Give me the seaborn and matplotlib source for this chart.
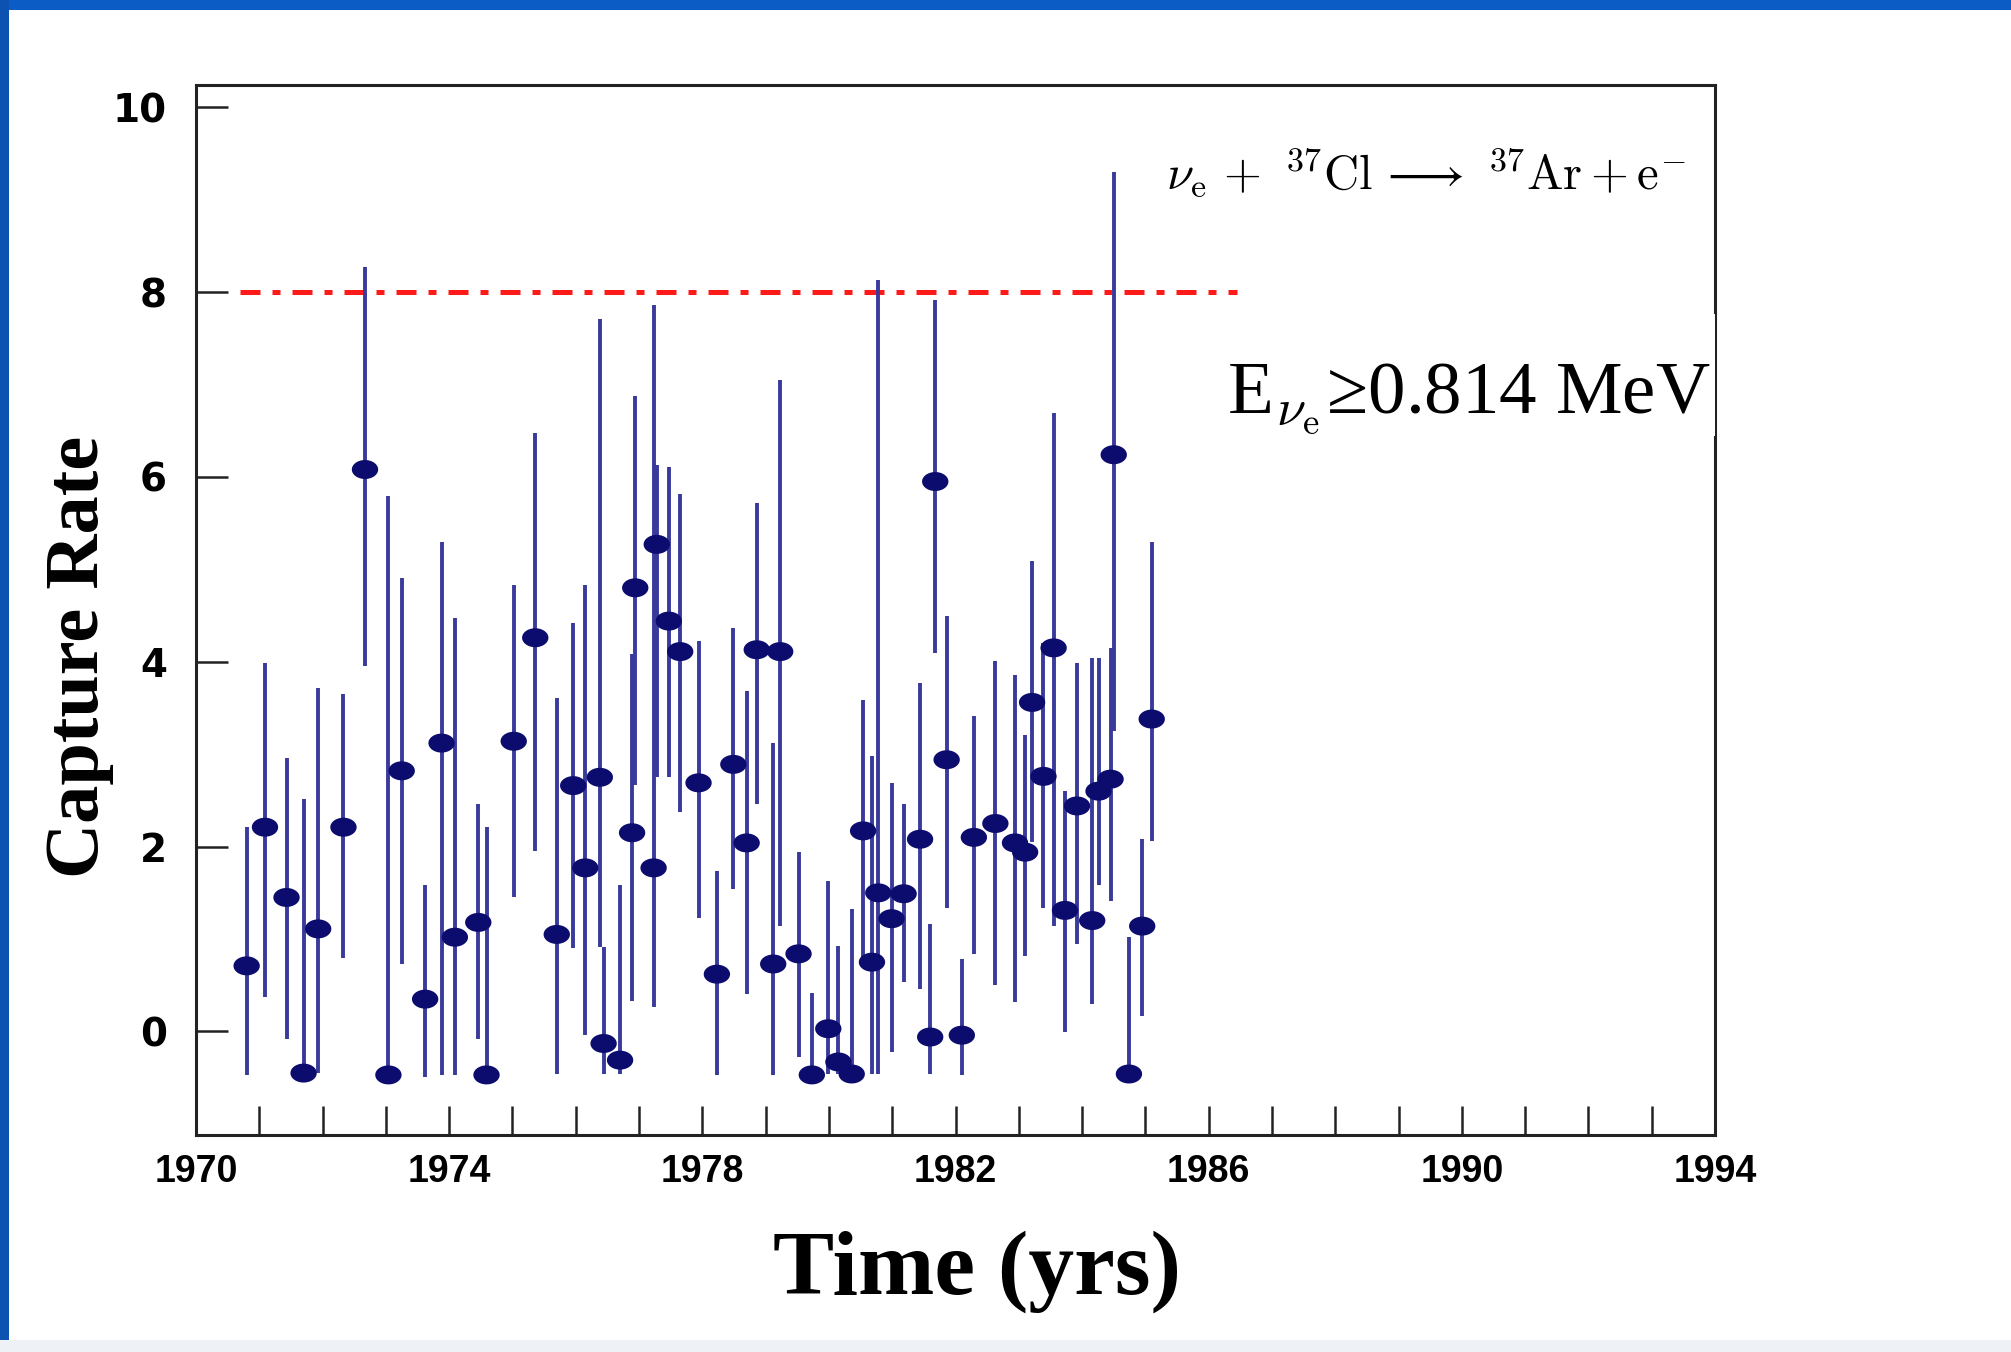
import numpy as np
import pandas as pd
import matplotlib
matplotlib.use("Agg")
import matplotlib.pyplot as plt
from matplotlib.path import Path
from matplotlib.patches import Rectangle
import seaborn as sns

# Homestake chlorine run results: run time (yr), capture rate and 1-sigma range
years = [1970.80, 1971.09, 1971.43, 1971.70, 1971.93, 1972.33, 1972.67, 1973.04,
         1973.25, 1973.62, 1973.88, 1974.09, 1974.46, 1974.59, 1975.02, 1975.36,
         1975.70, 1975.96, 1976.15, 1976.38, 1976.44, 1976.70, 1976.89, 1976.94,
         1977.23, 1977.28, 1977.47, 1977.65, 1977.94, 1978.23, 1978.49, 1978.70,
         1978.86, 1979.12, 1979.23, 1979.52, 1979.73, 1979.99, 1980.15, 1980.36,
         1980.54, 1980.68, 1980.78, 1980.99, 1981.18, 1981.44, 1981.60, 1981.68,
         1981.86, 1982.10, 1982.29, 1982.63, 1982.94, 1983.10, 1983.21, 1983.39,
         1983.55, 1983.73, 1983.92, 1984.16, 1984.26, 1984.45, 1984.50, 1984.74,
         1984.95, 1985.10]
rate = [0.71, 2.21, 1.45, -0.45, 1.11, 2.21, 6.08, -0.47,
        2.82, 0.35, 3.12, 1.02, 1.18, -0.47, 3.14, 4.26,
        1.05, 2.66, 1.77, 2.75, -0.13, -0.31, 2.15, 4.80,
        1.77, 5.27, 4.44, 4.11, 2.69, 0.62, 2.89, 2.04,
        4.13, 0.73, 4.11, 0.84, -0.47, 0.03, -0.33, -0.46,
        2.17, 0.75, 1.50, 1.22, 1.49, 2.08, -0.06, 5.95,
        2.94, -0.04, 2.10, 2.25, 2.04, 1.94, 3.56, 2.76,
        4.15, 1.31, 2.44, 1.20, 2.60, 2.73, 6.24, -0.46,
        1.14, 3.38]
rate_low = [-0.47, 0.37, -0.08, -0.47, -0.45, 0.80, 3.95, -0.48,
            0.73, -0.49, -0.47, -0.47, -0.08, -0.48, 1.45, 1.95,
            -0.46, 0.90, -0.04, 0.91, -0.46, -0.46, 0.33, 2.67,
            0.26, 2.75, 2.75, 2.37, 1.23, -0.47, 1.54, 0.41,
            2.46, -0.47, 1.14, -0.28, -0.48, -0.46, -0.46, -0.48,
            0.73, -0.46, -0.46, -0.22, 0.53, 0.46, -0.46, 4.10,
            1.34, -0.47, 0.84, 0.50, 0.32, 0.82, 2.05, 1.34,
            1.14, -0.01, 0.95, 0.30, 1.59, 1.41, 3.25, -0.48,
            0.17, 2.06]
rate_high = [2.21, 3.99, 2.96, 2.52, 3.72, 3.65, 8.27, 5.79,
             4.91, 1.58, 5.30, 4.47, 2.46, 2.21, 4.83, 6.47,
             3.61, 4.42, 4.83, 7.71, 0.91, 1.58, 4.08, 6.87,
             7.86, 6.13, 6.11, 5.81, 4.22, 1.74, 4.37, 3.68,
             5.72, 3.12, 7.05, 1.94, 0.42, 1.63, 0.93, 1.33,
             3.59, 2.98, 8.13, 2.69, 2.46, 3.77, 1.16, 7.91,
             4.49, 0.78, 3.41, 4.01, 3.86, 3.21, 5.09, 4.20,
             6.69, 2.60, 3.99, 4.04, 4.04, 4.15, 9.30, 1.02,
             2.08, 5.30]

# Standard solar model prediction
ssm_rate = 8.0
ssm_years = [1970.7, 1986.45]

x_ticks = list(range(1970, 1995))
x_labels = [str(y) if (y - 1970) % 4 == 0 else "" for y in x_ticks]
y_ticks = [0, 2, 4, 6, 8, 10]

df = pd.DataFrame({"Time": years, "Rate": rate,
                   "Low": rate_low, "High": rate_high})

sns.set_theme(style="white")
plt.rcParams["mathtext.fontset"] = "cm"
plt.rcParams["font.family"] = ["DejaVu Sans"]
plt.rcParams["text.color"] = "black"

fig = plt.figure(figsize=(20.11, 13.52), dpi=100)
fig.patch.set_facecolor("white")

# slide frame
fig.patches.append(Rectangle((0, 1 - 10 / 1352), 1, 10 / 1352, transform=fig.transFigure,
                             facecolor="#0b5cc4", edgecolor="none", zorder=0))
fig.patches.append(Rectangle((0, 0), 9 / 2011, 1, transform=fig.transFigure,
                             facecolor="#0c52b0", edgecolor="none", zorder=0))
fig.patches.append(Rectangle((0, 0), 1, 12 / 1352, transform=fig.transFigure,
                             facecolor="#eef2f6", edgecolor="none", zorder=0))

ax = fig.add_axes([196 / 2011, 217 / 1352, 1519 / 2011, 1050 / 1352])
ax.set_facecolor("white")

# error bars
ax.vlines(df["Time"], df["Low"], df["High"], colors="#3a3a9c", linewidth=2.8, zorder=2)

# run values drawn as flattened ellipses
theta = np.linspace(0, 2 * np.pi, 64)
ellipse = Path(np.column_stack([np.cos(theta), 0.72 * np.sin(theta)]))
sns.scatterplot(data=df, x="Time", y="Rate", marker=ellipse, s=360,
                color="#0c0c6e", edgecolor="none", linewidth=0, ax=ax, zorder=3,
                legend=False)

# SSM expectation
ax.plot(ssm_years, [ssm_rate, ssm_rate], color="#ff1a1a", linewidth=3.6,
        linestyle=(0, (4, 2.4, 1.6, 2.4)), zorder=1)

ax.set_xlim(1970, 1994)
ax.set_ylim(-1.12, 10.24)
ax.set_xticks(x_ticks)
ax.set_xticklabels(x_labels, fontfamily="Liberation Sans", fontweight="bold",
                   fontsize=27, color="black")
ax.set_yticks(y_ticks)
ax.set_yticklabels([str(v) for v in y_ticks], fontfamily="DejaVu Sans",
                   fontweight="bold", fontsize=28, color="black")
ax.tick_params(axis="x", which="both", bottom=True, top=False, direction="in",
               length=21, width=1.8, color="#222222", pad=14)
ax.tick_params(axis="y", which="both", left=True, right=False, direction="in",
               length=23, width=1.8, color="#222222", pad=21)
for s in ax.spines.values():
    s.set_color("#222222")
    s.set_linewidth(2.2)
    s.set_zorder(5)
ax.set_xlabel("")
ax.set_ylabel("")

fig.text(80 / 2011, 1 - 657 / 1352, "Capture Rate", rotation=90, ha="center", va="center",
         fontfamily="Liberation Serif", fontweight="bold", fontsize=55, color="black")
fig.text(977 / 2011, 1 - 1272 / 1352, "Time (yrs)", ha="center", va="center",
         fontfamily="Liberation Serif", fontweight="bold", fontsize=66, color="black")

# reaction
fig.text(1686 / 2011, 1 - 190 / 1352,
         r"$\nu_{\mathrm{e}}\,+\ {}^{37}\mathrm{Cl}\,\longrightarrow\ {}^{37}\mathrm{Ar} + \mathrm{e}^{-}$",
         ha="right", va="baseline", fontsize=35, color="black")

# threshold label on a white panel
fig.patches.append(Rectangle((1218 / 2011, 1 - 436 / 1352), 497 / 2011, 122 / 1352,
                             transform=fig.transFigure, facecolor="white",
                             edgecolor="none", zorder=4))
fig.text(1227 / 2011, 1 - 413 / 1352, r"E$_{\nu_{\mathrm{e}}}$≥0.814 MeV",
         ha="left", va="baseline", fontfamily="Liberation Serif", fontsize=54,
         color="black", zorder=6)

fig.savefig("out.png", dpi=100, facecolor="white")
